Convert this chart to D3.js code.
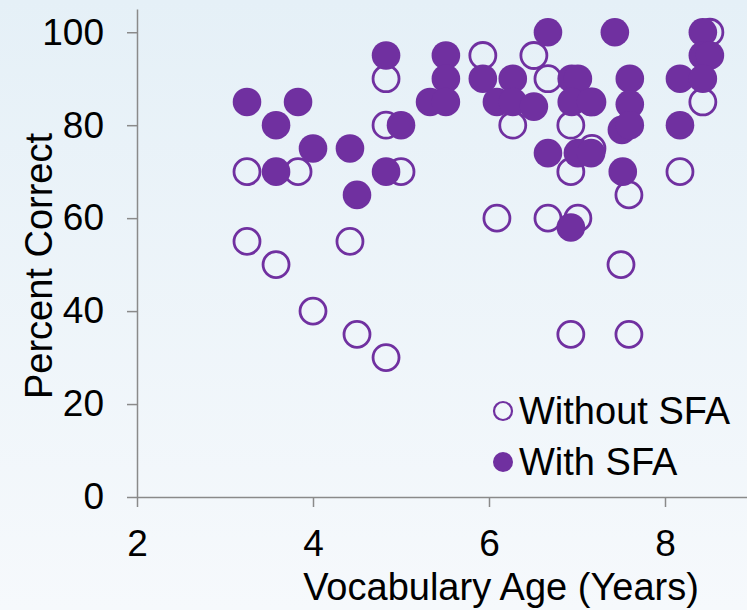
<!DOCTYPE html>
<html>
<head>
<meta charset="utf-8">
<script src="https://cdn.jsdelivr.net/npm/d3@7"></script>
<style>
  body { margin: 0; }
  svg { display: block; font-family: "Liberation Sans", Arial, sans-serif; }
</style>
</head>
<body>
<svg></svg>
<script>
var width = 747,
    height = 610;

// [vocabulary age, percent correct]
var withoutSFA = [
  [3.25, 70], [3.25, 55], [3.58, 50], [3.83, 70], [4.0, 40], [4.42, 55],
  [4.5, 35], [4.83, 90], [4.83, 80], [4.83, 30], [5.0, 70], [5.93, 95],
  [6.09, 60], [6.27, 80], [6.51, 95], [6.67, 90], [6.67, 60], [6.93, 80],
  [6.93, 70], [6.93, 35], [7.01, 60], [7.17, 85], [7.17, 75], [7.5, 50],
  [7.59, 65], [7.59, 35], [8.17, 70], [8.43, 85], [8.51, 100]
];

var withSFA = [
  [3.25, 85], [3.58, 80], [3.58, 70], [3.83, 85], [4.0, 75], [4.42, 75],
  [4.5, 65], [4.83, 95], [4.83, 70], [5.0, 80], [5.33, 85], [5.51, 95],
  [5.51, 90], [5.51, 85], [5.93, 90], [6.09, 85], [6.27, 90], [6.27, 85],
  [6.51, 84], [6.67, 100], [6.67, 74], [6.94, 90], [7.01, 90], [6.94, 85],
  [7.16, 85], [6.93, 58], [7.01, 74], [7.16, 74], [7.43, 100], [7.6, 90],
  [7.6, 84.5], [7.51, 79], [7.6, 80], [7.52, 70], [8.17, 90], [8.17, 80],
  [8.43, 100], [8.43, 95], [8.51, 95], [8.43, 90]
];

var xTicks = [2, 4, 6, 8],
    yTicks = [0, 20, 40, 60, 80, 100];

var seriesNames = ["Without SFA", "With SFA"];

var purple = "#7030a0",
    axisGrey = "#8a8a8a";

var svg = d3.select("svg")
    .attr("width", width)
    .attr("height", height);

// soft blue background
var grad = svg.append("defs").append("linearGradient")
    .attr("id", "bg")
    .attr("x1", 0).attr("y1", 0)
    .attr("x2", 0).attr("y2", 1);
grad.append("stop").attr("offset", "0%").attr("stop-color", "#e5f0f7");
grad.append("stop").attr("offset", "100%").attr("stop-color", "#f6f9fc");

svg.append("rect")
    .attr("width", width)
    .attr("height", height)
    .attr("fill", "url(#bg)");

var x = d3.scaleLinear().domain([2, 9]).range([137, 753]);
var y = d3.scaleLinear().domain([0, 105]).range([497, 9]);

// axes
var xAxis = svg.append("g")
    .attr("transform", "translate(0," + y(0) + ")")
    .call(d3.axisBottom(x).tickValues(xTicks).tickSize(10).tickPadding(23).tickSizeOuter(0).tickFormat(d3.format("d")));

var yAxis = svg.append("g")
    .attr("transform", "translate(" + x(2) + ",0)")
    .call(d3.axisLeft(y).tickValues(yTicks).tickSize(10).tickPadding(23).tickSizeOuter(0).tickFormat(d3.format("d")));

[xAxis, yAxis].forEach(function(a) {
  a.select(".domain").attr("stroke", axisGrey).attr("stroke-width", 1.5);
  a.selectAll(".tick line").attr("stroke", axisGrey).attr("stroke-width", 1.5);
  a.selectAll(".tick text")
      .attr("fill", "#000")
      .style("font-size", "37px")
      .style("font-family", "Liberation Sans, Arial, sans-serif");
});

// axis titles
svg.append("text")
    .attr("x", 501)
    .attr("y", 600)
    .attr("text-anchor", "middle")
    .style("font-size", "38px")
    .text("Vocabulary Age (Years)");

svg.append("text")
    .attr("transform", "translate(52,266) rotate(-90)")
    .attr("text-anchor", "middle")
    .style("font-size", "38px")
    .text("Percent Correct");

// points: open series first, filled drawn on top
svg.append("g").attr("class", "without")
  .selectAll("circle")
  .data(withoutSFA).enter()
  .append("circle")
    .attr("cx", function(d) { return x(d[0]); })
    .attr("cy", function(d) { return y(d[1]); })
    .attr("r", 13)
    .attr("fill", "none")
    .attr("stroke", purple)
    .attr("stroke-width", 2.8);

svg.append("g").attr("class", "with")
  .selectAll("circle")
  .data(withSFA).enter()
  .append("circle")
    .attr("cx", function(d) { return x(d[0]); })
    .attr("cy", function(d) { return y(d[1]); })
    .attr("r", 14.3)
    .attr("fill", purple);

// legend
var legend = svg.append("g").attr("class", "legend");
seriesNames.forEach(function(name, i) {
  var cy = 411 + i * 51;
  var m = legend.append("circle")
      .attr("cx", 503)
      .attr("cy", cy);
  if (i === 0) {
    m.attr("r", 9).attr("fill", "none").attr("stroke", purple).attr("stroke-width", 2.2);
  } else {
    m.attr("r", 10).attr("fill", purple);
  }
  legend.append("text")
      .attr("x", 519)
      .attr("y", cy + 13)
      .style("font-size", "38px")
      .text(name);
});
</script>
</body>
</html>
